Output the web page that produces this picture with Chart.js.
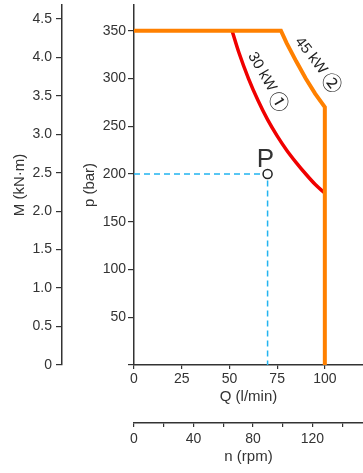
<!DOCTYPE html>
<html lang="en">
<head>
<meta charset="UTF-8" />
<title>Pump power limits</title>
<script src="https://cdn.jsdelivr.net/npm/chart.js@4.4.0/dist/chart.umd.min.js"></script>
<style>
  html, body { margin: 0; padding: 0; background: #fff; }
  #wrap { width: 363px; height: 473px; }
</style>
</head>
<body>
<div id="wrap"><canvas id="chart" width="363" height="473"></canvas></div>
<script>
  // 45 kW limit (orange): pressure cap, power hyperbola, flow cap
  const q45 = [0, 77, 80, 85, 90, 95, 100, 100];
  const p45 = [350, 350, 337, 318, 300, 284, 270, 0];
  // 30 kW hyperbola (red)
  const q30 = [51.4, 55, 60, 65, 70, 75, 80, 85, 90, 95, 100];
  const p30 = [350, 327, 300, 277, 257, 240, 225, 212, 200, 189, 180];
  // operating point P and its dashed guides
  const qP = [70];
  const pP = [200];
  const guideQ = [0, 70, 70];
  const guideP = [200, 200, 0];

  // tick values
  const qTicks = [0, 25, 50, 75, 100];
  const pTicks = [0, 50, 100, 150, 200, 250, 300, 350];
  const mTicks = [0, 0.5, 1.0, 1.5, 2.0, 2.5, 3.0, 3.5, 4.0, 4.5];
  const nTicks = [0, 20, 40, 60, 80, 100, 120, 140];
  const nLabels = [0, 40, 80, 120];

  // text placed on the curves (data coordinates)
  const curveLabels = [
    { text: '30 kW ', mark: '\u2460', q: 70.2, p: 296, angle: 60 },
    { text: '45 kW ', mark: '\u2461', q: 96.6, p: 314, angle: 52 }
  ];
  const pLabel = { text: 'P', q: 68.9, p: 207.5 };

  const FONT = '"Liberation Sans", Arial, sans-serif';
  const MARK_FONT = '20px "Noto Sans CJK JP", "DejaVu Sans", sans-serif';
  const INK = '#333';
  Chart.defaults.font.family = FONT;
  Chart.defaults.color = INK;

  const pts = (qs, ps) => qs.map((q, i) => ({ x: q, y: ps[i] }));

  // fixed box sizes, no label overhang padding
  const fixBox = (w, h) => s => {
    if (w) s.width = w;
    if (h) s.height = h;
    s.paddingTop = s.paddingBottom = s.paddingLeft = s.paddingRight = 0;
  };

  const axisStyle = {
    grid: { drawOnChartArea: false, drawTicks: true, color: INK, lineWidth: 1.2 },
    border: { color: INK, width: 1.5 }
  };
  const tickFont = { size: 14 };
  const titleFont = { size: 15 };

  const labelPlugin = {
    id: 'curveLabels',
    afterDatasetsDraw(chart) {
      const { ctx, scales: { x, y } } = chart;
      ctx.save();
      ctx.fillStyle = '#222';
      ctx.textBaseline = 'middle';
      ctx.textAlign = 'left';
      curveLabels.forEach(l => {
        ctx.save();
        ctx.translate(x.getPixelForValue(l.q), y.getPixelForValue(l.p));
        ctx.rotate(l.angle * Math.PI / 180);
        ctx.font = '15px ' + FONT;
        const w1 = ctx.measureText(l.text).width;
        ctx.font = MARK_FONT;
        const w2 = ctx.measureText(l.mark).width;
        const x0 = -(w1 + w2) / 2;
        ctx.font = '15px ' + FONT;
        ctx.fillText(l.text, x0, 0);
        ctx.font = MARK_FONT;
        ctx.fillText(l.mark, x0 + w1 - 1, 0);
        ctx.restore();
      });
      ctx.fillStyle = INK;
      ctx.font = '26px ' + FONT;
      ctx.textAlign = 'center';
      ctx.textBaseline = 'alphabetic';
      ctx.fillText(pLabel.text, x.getPixelForValue(pLabel.q), y.getPixelForValue(pLabel.p));
      ctx.restore();
    }
  };

  new Chart(document.getElementById('chart'), {
    type: 'line',
    data: {
      datasets: [
        {
          label: '45 kW',
          data: pts(q45, p45),
          borderColor: '#ff8000',
          borderWidth: 4,
          pointRadius: 0,
          tension: 0
        },
        {
          label: 'P',
          data: pts(qP, pP),
          showLine: false,
          pointRadius: 4.5,
          pointBorderWidth: 1.5,
          pointBorderColor: '#222',
          pointBackgroundColor: '#fff'
        },
        {
          label: '30 kW',
          data: pts(q30, p30),
          borderColor: '#f00000',
          borderWidth: 3.5,
          pointRadius: 0,
          cubicInterpolationMode: 'monotone'
        },
        {
          label: 'guide',
          data: pts(guideQ, guideP),
          borderColor: '#22b4f0',
          borderWidth: 1.5,
          borderDash: [6, 4],
          pointRadius: 0,
          tension: 0
        }
      ]
    },
    options: {
      responsive: false,
      animation: false,
      layout: { autoPadding: false, padding: { top: 5, right: 0, bottom: 0, left: 0 } },
      plugins: { legend: { display: false }, tooltip: { enabled: false } },
      scales: {
        x: {
          type: 'linear', position: 'bottom', weight: 0, min: 0, max: 120,
          afterBuildTicks: s => { s.ticks = qTicks.map(v => ({ value: v })); },
          afterFit: fixBox(0, 58),
          grid: { ...axisStyle.grid, tickLength: 4 },
          border: axisStyle.border,
          ticks: { font: tickFont, padding: 2, maxRotation: 0, autoSkip: false },
          title: { display: true, text: 'Q (l/min)', font: titleFont, padding: { top: 0, bottom: 17 } }
        },
        n: {
          type: 'linear', position: 'bottom', weight: 1, min: 0, max: 154,
          afterBuildTicks: s => { s.ticks = nTicks.map(v => ({ value: v })); },
          afterFit: fixBox(0, 50),
          grid: { ...axisStyle.grid, tickLength: 4 },
          border: axisStyle.border,
          ticks: {
            font: tickFont, padding: 4, maxRotation: 0, autoSkip: false,
            callback: v => nLabels.includes(v) ? String(v) : ''
          },
          title: { display: true, text: 'n (rpm)', font: titleFont, padding: { top: 0, bottom: 7 } }
        },
        y: {
          type: 'linear', position: 'left', weight: 0, min: 0, max: 377,
          afterBuildTicks: s => { s.ticks = pTicks.map(v => ({ value: v })); },
          afterFit: fixBox(72, 0),
          grid: { ...axisStyle.grid, tickLength: 6 },
          border: axisStyle.border,
          ticks: { font: tickFont, padding: 2, callback: v => v === 0 ? '' : String(v) },
          title: { display: true, text: 'p (bar)', font: titleFont, padding: { top: 19, bottom: 0 } }
        },
        m: {
          type: 'linear', position: 'left', weight: 1, min: 0, max: 4.68,
          afterBuildTicks: s => { s.ticks = mTicks.map(v => ({ value: v })); },
          afterFit: fixBox(62, 0),
          grid: { ...axisStyle.grid, tickLength: 6 },
          border: axisStyle.border,
          ticks: { font: tickFont, padding: 4, callback: v => v === 0 ? '0' : v.toFixed(1) },
          title: { display: true, text: 'M (kN\u00b7m)', font: titleFont, padding: { top: 11, bottom: 0 } }
        }
      }
    },
    plugins: [labelPlugin]
  });
</script>
</body>
</html>
